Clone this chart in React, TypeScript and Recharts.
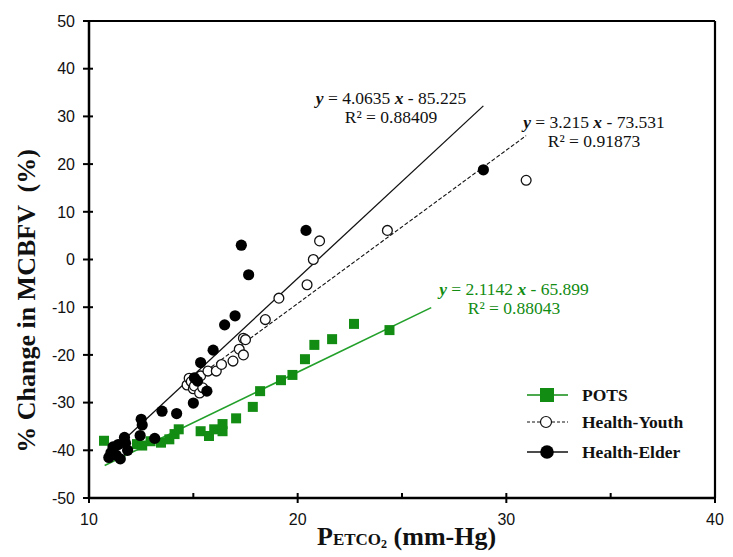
import { ScatterChart, Scatter, XAxis, YAxis, ReferenceLine, Customized } from 'recharts'

// ── data ────────────────────────────────────────────────────────────────────

const POTS_X = [10.72, 12.3, 12.55, 12.95, 13.45, 13.85, 14.1, 14.3, 15.35, 15.75, 16.0, 16.4, 16.4, 17.05, 17.85, 18.2, 19.2, 19.75, 20.35, 20.8, 21.65, 22.7, 24.4]
const POTS_Y = [-38.0, -38.7, -39.0, -38.1, -38.4, -37.7, -36.6, -35.6, -36.0, -37.0, -35.6, -36.0, -34.5, -33.3, -30.9, -27.6, -25.3, -24.2, -20.9, -17.9, -16.7, -13.5, -14.8]

const YOUTH_X = [14.7, 14.8, 14.9, 15.0, 15.05, 15.3, 15.35, 15.45, 15.7, 16.1, 16.35, 16.9, 17.2, 17.4, 17.4, 17.5, 18.45, 19.1, 20.45, 20.75, 21.05, 24.3, 30.95]
const YOUTH_Y = [-26.3, -24.9, -25.6, -27.1, -26.5, -28.0, -24.4, -26.9, -23.4, -23.4, -22.0, -21.3, -18.8, -20.0, -16.5, -16.8, -12.6, -8.1, -5.3, 0.0, 3.9, 6.1, 16.6]

const ELDER_X = [10.95, 11.05, 11.15, 11.3, 11.4, 11.5, 11.7, 11.75, 11.85, 12.45, 12.5, 12.55, 13.15, 13.5, 14.2, 15.0, 15.05, 15.2, 15.35, 15.65, 15.95, 16.5, 17.0, 17.3, 17.65, 20.4, 28.9]
const ELDER_Y = [-41.5, -40.5, -39.3, -41.0, -38.8, -41.8, -37.3, -38.5, -40.0, -36.9, -33.5, -34.7, -37.5, -31.8, -32.3, -30.1, -24.8, -25.5, -21.6, -27.6, -19.0, -13.7, -11.8, 3.0, -3.2, 6.1, 18.8]

// trendlines: coefficients printed on the chart, x span of each drawn line
const POTS_FIT = { slope: 2.1142, icpt: -65.899, from: 10.75, to: 26.4 }
const YOUTH_FIT = { slope: 3.215, icpt: -73.531, from: 14.7, to: 30.95 }
const ELDER_FIT = { slope: 4.0635, icpt: -85.225, from: 10.8, to: 28.9 }

const X_TICKS = [10, 15, 20, 25, 30, 35, 40]
const Y_TICKS = [-50, -40, -30, -20, -10, 0, 10, 20, 30, 40, 50]

const SERIES_NAMES = ['POTS', 'Health-Youth', 'Health-Elder']

// ── helpers ────────────────────────────────────────────────────────────────

const GREEN = '#128c12'
const SERIF = '"Liberation Serif", "Times New Roman", serif'
const SANS = '"Liberation Sans", Arial, sans-serif'

const W = 733
const H = 557
const PLOT_LEFT = 89
const PLOT_BOTTOM = 498

function toPoints(xs: number[], ys: number[]) {
  return xs.map((x, i) => ({ x, y: ys[i] }))
}

function fitSegment(f: { slope: number; icpt: number; from: number; to: number }) {
  return [
    { x: f.from, y: f.slope * f.from + f.icpt },
    { x: f.to, y: f.slope * f.to + f.icpt },
  ]
}

const potsData = toPoints(POTS_X, POTS_Y)
const youthData = toPoints(YOUTH_X, YOUTH_Y)
const elderData = toPoints(ELDER_X, ELDER_Y)

// ── marker shapes ──────────────────────────────────────────────────────────

const Square = ({ cx, cy }: any) => <rect x={cx - 5} y={cy - 5} width={10} height={10} fill={GREEN} />
const OpenDot = ({ cx, cy }: any) => <circle cx={cx} cy={cy} r={4.9} fill="#fff" stroke="#111" strokeWidth={1.3} />
const FilledDot = ({ cx, cy }: any) => <circle cx={cx} cy={cy} r={5.6} fill="#000" />

// ── ticks ──────────────────────────────────────────────────────────────────

const YTick = ({ y, payload }: any) => (
  <g>
    <line x1={PLOT_LEFT - 6} x2={PLOT_LEFT + 4} y1={y} y2={y} stroke="#000" strokeWidth={2} />
    <text x={75} y={y} dy="0.36em" textAnchor="end" fontFamily={SANS} fontSize={16} fill="#111">
      {payload.value}
    </text>
  </g>
)

const XTick = ({ x, payload }: any) => {
  const major = payload.value % 10 === 0
  return (
    <g>
      {major ? (
        <line x1={x} x2={x} y1={PLOT_BOTTOM - 5} y2={PLOT_BOTTOM + 5} stroke="#000" strokeWidth={2} />
      ) : (
        <line x1={x} x2={x} y1={PLOT_BOTTOM - 5} y2={PLOT_BOTTOM} stroke="#000" strokeWidth={2} />
      )}
      {major && (
        <text x={x} y={519} dy="0.36em" textAnchor="middle" fontFamily={SANS} fontSize={16} fill="#111">
          {payload.value}
        </text>
      )}
    </g>
  )
}

// ── annotations: titles, equations, legend ─────────────────────────────────

function Annotations() {
  const eq = { fontFamily: SERIF, fontSize: 17.5, textAnchor: 'middle' as const }
  return (
    <g>
      {/* axis titles */}
      <text
        transform="translate(35, 301) rotate(-90)"
        textAnchor="middle"
        fontFamily={SERIF}
        fontWeight="bold"
        fontSize={26}
        fill="#111"
        style={{ whiteSpace: 'pre' }}
      >
        {'% Change in MCBFV  (%)'}
      </text>
      <text x={317} y={545} fontFamily={SERIF} fontWeight="bold" fill="#111">
        <tspan fontSize={26}>P</tspan>
        <tspan fontSize={17}>ETCO</tspan>
        <tspan fontSize={12} dy={3}>2</tspan>
        <tspan fontSize={26} dy={-3}>{' (mm-Hg)'}</tspan>
      </text>

      {/* Health-Elder fit */}
      <text x={391} y={104} {...eq} fill="#111">
        <tspan fontWeight="bold" fontStyle="italic">y</tspan> = 4.0635 <tspan fontWeight="bold" fontStyle="italic">x</tspan> - 85.225
      </text>
      <text x={391} y={123} {...eq} fill="#111">R² = 0.88409</text>

      {/* Health-Youth fit */}
      <text x={594} y={128} {...eq} fill="#111">
        <tspan fontWeight="bold" fontStyle="italic">y</tspan> = 3.215 <tspan fontWeight="bold" fontStyle="italic">x</tspan> - 73.531
      </text>
      <text x={594} y={147} {...eq} fill="#111">R² = 0.91873</text>

      {/* POTS fit */}
      <text x={514} y={295} {...eq} fill={GREEN}>
        <tspan fontWeight="bold" fontStyle="italic">y</tspan> = 2.1142 <tspan fontWeight="bold" fontStyle="italic">x</tspan> - 65.899
      </text>
      <text x={514} y={314} {...eq} fill={GREEN}>R² = 0.88043</text>

      {/* legend */}
      <g>
        <line x1={527} x2={568} y1={395} y2={395} stroke={GREEN} strokeWidth={1.5} />
        <rect x={540} y={388} width={14} height={14} fill={GREEN} />
        <line x1={527} x2={568} y1={422} y2={422} stroke="#111" strokeWidth={1} strokeDasharray="3 2" />
        <circle cx={546} cy={422} r={5.5} fill="#fff" stroke="#111" strokeWidth={1.2} />
        <line x1={527} x2={568} y1={452} y2={452} stroke="#111" strokeWidth={1.3} />
        <circle cx={547} cy={452} r={6.8} fill="#000" />
        {SERIES_NAMES.map((name, i) => (
          <text
            key={name}
            x={582}
            y={[395, 422, 452][i]}
            dy="0.35em"
            fontFamily={SERIF}
            fontWeight="bold"
            fontSize={17.5}
            fill="#111"
          >
            {name}
          </text>
        ))}
      </g>
    </g>
  )
}

// ── chart ──────────────────────────────────────────────────────────────────

export default function App() {
  return (
    <div style={{ position: 'absolute', left: 0, top: 0, width: W, height: H, background: '#fff' }}>
      <ScatterChart width={W} height={H} margin={{ top: 21, right: 18, bottom: 0, left: 0 }}>
        <XAxis
          type="number"
          dataKey="x"
          domain={[10, 40]}
          ticks={X_TICKS}
          height={H - PLOT_BOTTOM}
          axisLine={{ stroke: '#000', strokeWidth: 2.5 }}
          tickLine={false}
          tick={<XTick />}
          interval={0}
        />
        <YAxis
          type="number"
          dataKey="y"
          domain={[-50, 50]}
          ticks={Y_TICKS}
          width={PLOT_LEFT}
          axisLine={{ stroke: '#000', strokeWidth: 2.5 }}
          tickLine={false}
          tick={<YTick />}
          interval={0}
        />
        <ReferenceLine y={50} stroke="#000" strokeWidth={2.2} />
        <ReferenceLine x={40} stroke="#000" strokeWidth={2.2} />

        <Scatter name="POTS" data={potsData} shape={<Square />} isAnimationActive={false} />
        <Scatter name="Health-Youth" data={youthData} shape={<OpenDot />} isAnimationActive={false} />
        <Scatter name="Health-Elder" data={elderData} shape={<FilledDot />} isAnimationActive={false} />

        <ReferenceLine segment={fitSegment(POTS_FIT)} stroke="#22a02a" strokeWidth={1.6} />
        <ReferenceLine segment={fitSegment(YOUTH_FIT)} stroke="#111" strokeWidth={1.1} strokeDasharray="4 2" />
        <ReferenceLine segment={fitSegment(ELDER_FIT)} stroke="#111" strokeWidth={1.3} />

        <Customized component={<Annotations />} />
      </ScatterChart>
    </div>
  )
}
